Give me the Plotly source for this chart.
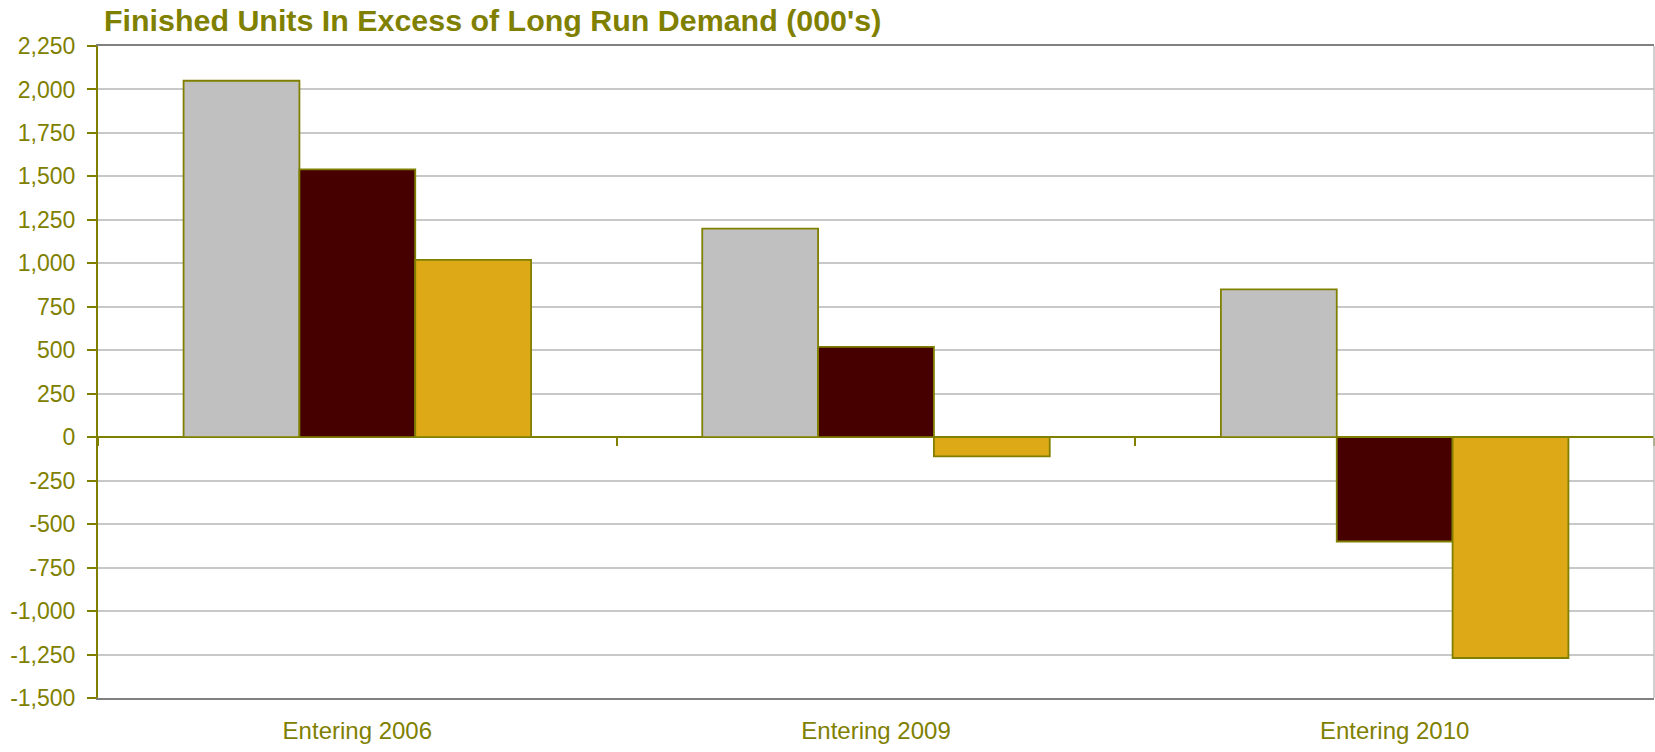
import plotly.graph_objects as go

# Categories and series values (thousands of units)
categories = ["Entering 2006", "Entering 2009", "Entering 2010"]
series_names = ["Series 1", "Series 2", "Series 3"]
series_1 = [2050, 1200, 850]
series_2 = [1540, 520, -600]
series_3 = [1020, -110, -1270]

# Value axis ticks
y_tick_values = [-1500, -1250, -1000, -750, -500, -250, 0, 250, 500, 750,
                 1000, 1250, 1500, 1750, 2000, 2250]
y_tick_labels = ["-1,500", "-1,250", "-1,000", "-750", "-500", "-250", "0",
                 "250", "500", "750", "1,000", "1,250", "1,500", "1,750",
                 "2,000", "2,250"]

OLIVE = "#808000"
FILLS = ["#C0C0C0", "#460000", "#DDA917"]
FONT = "Liberation Sans, Arial, sans-serif"

fig = go.Figure()
for name, vals, fill in zip(series_names, [series_1, series_2, series_3], FILLS):
    fig.add_trace(go.Bar(
        x=categories, y=vals, name=name,
        marker=dict(color=fill, line=dict(color=OLIVE, width=1.8)),
    ))

# Invisible helper trace so the category-boundary tick axis at y=0 is drawn
fig.add_trace(go.Scatter(x=[None], y=[None], xaxis="x2", yaxis="y",
                         showlegend=False, hoverinfo="skip"))

y_min, y_max = y_tick_values[0], y_tick_values[-1]
zero_pos = (0 - y_min) / (y_max - y_min)

fig.update_layout(
    width=1655, height=752,
    margin=dict(l=98, r=1, t=46, b=54),
    paper_bgcolor="white", plot_bgcolor="white",
    showlegend=False,
    barmode="group", bargap=0.33, bargroupgap=0,
    title=dict(
        text="Finished Units In Excess of Long Run Demand (000's)",
        font=dict(family=FONT, size=30.4, color=OLIVE, weight="bold"),
        x=104 / 1655, xanchor="left", xref="container",
        y=1 - 20 / 752, yanchor="middle", yref="container",
    ),
    xaxis=dict(
        showgrid=False, zeroline=False,
        showline=True, linecolor="#808080", linewidth=2, mirror=True,
        ticks="", tickfont=dict(family=FONT, size=24, color=OLIVE),
        ticklabelstandoff=10,
    ),
    xaxis2=dict(
        overlaying="x", anchor="free", position=zero_pos,
        range=[-0.5, 2.5], tickmode="array",
        tickvals=[-0.5, 0.5, 1.5, 2.5],
        ticks="outside", ticklen=8, tickwidth=1.5, tickcolor=OLIVE,
        showticklabels=False, showline=False, showgrid=False, zeroline=False,
    ),
    yaxis=dict(
        range=[y_min, y_max], tickmode="array",
        tickvals=y_tick_values, ticktext=y_tick_labels,
        showgrid=True, gridcolor="#C8C8C8", gridwidth=2,
        zeroline=True, zerolinecolor=OLIVE, zerolinewidth=2,
        showline=True, linecolor=OLIVE, linewidth=2,
        ticks="outside", ticklen=9, tickwidth=1.5, tickcolor=OLIVE,
        tickfont=dict(family=FONT, size=23, color=OLIVE),
        ticklabelstandoff=7,
    ),
    shapes=[
        dict(type="line", xref="paper", yref="paper", x0=1, x1=1, y0=0, y1=1,
             line=dict(color="#C0C0C0", width=1.5)),
    ],
)

fig.write_html("out.html")
